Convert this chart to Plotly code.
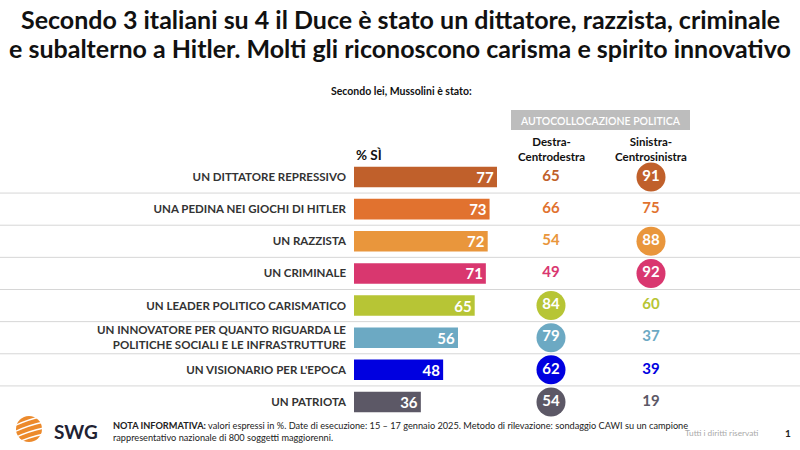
import plotly.graph_objects as go

W, H = 800, 450

categories = [
    "UN DITTATORE REPRESSIVO",
    "UNA PEDINA NEI GIOCHI DI HITLER",
    "UN RAZZISTA",
    "UN CRIMINALE",
    "UN LEADER POLITICO CARISMATICO",
    "UN INNOVATORE PER QUANTO RIGUARDA LE<br>POLITICHE SOCIALI E LE INFRASTRUTTURE",
    "UN VISIONARIO PER L'EPOCA",
    "UN PATRIOTA",
]
pct_si = [77, 73, 72, 71, 65, 56, 48, 36]
destra = [65, 66, 54, 49, 84, 79, 62, 54]
sinistra = [91, 75, 88, 92, 60, 37, 39, 19]
destra_highlight = [0, 0, 0, 0, 1, 1, 1, 1]
sinistra_highlight = [1, 0, 1, 1, 0, 0, 0, 0]
groups = ["Destra-<br>Centrodestra", "Sinistra-<br>Centrosinistra"]
colors = ["#C0602B", "#E1722F", "#E9963C", "#D9376F", "#B7C535", "#6CA9C3", "#0000E0", "#5C5866"]
title_lines = [
    "Secondo 3 italiani su 4 il Duce è stato un dittatore, razzista, criminale",
    "e subalterno a Hitler. Molti gli riconoscono carisma e spirito innovativo",
]

FONT = "Lato"


def px(x):
    return x / W


def py(y):
    return 1 - y / H


rows = list(range(len(categories)))
row0, step = 177, 32.14
y_range = [(H - row0) / step, -row0 / step]

fig = go.Figure()

# separators between rows
for i in range(len(categories) - 1):
    fig.add_shape(type="line", xref="paper", yref="y", x0=0, x1=1, y0=i + 0.5, y1=i + 0.5,
                  line=dict(color="#D6D6D6", width=1), layer="below")

fig.add_trace(go.Bar(
    orientation="h", y=rows, x=pct_si, marker=dict(color=colors, line=dict(width=0)),
    width=0.64, text=[str(v) for v in pct_si], textposition="inside", insidetextanchor="end",
    textangle=0, constraintext="none",
    textfont=dict(family=FONT, size=15, color="white", weight="bold"), cliponaxis=False,
    hoverinfo="skip", xaxis="x", yaxis="y",
))


def col_trace(vals, flags, group):
    sizes = [29 if f else 1 for f in flags]
    tcol = ["white" if f else c for f, c in zip(flags, colors)]
    mcol = [c if f else "rgba(255,255,255,0)" for f, c in zip(flags, colors)]
    return go.Scatter(
        x=[group] * len(vals), y=rows, mode="markers+text", text=[str(v) for v in vals],
        textposition="middle center",
        marker=dict(size=sizes, color=mcol, opacity=1, line=dict(width=0)),
        textfont=dict(family=FONT, size=15, color=tcol, weight="bold"),
        xaxis="x2", yaxis="y", hoverinfo="skip", cliponaxis=False,
    )


fig.add_trace(col_trace(destra, destra_highlight, groups[0]))
fig.add_trace(col_trace(sinistra, sinistra_highlight, groups[1]))

bar_x0 = 354
bar_ppu = 1.857
fig.update_layout(
    width=W, height=H, margin=dict(l=0, r=0, t=0, b=0),
    paper_bgcolor="white", plot_bgcolor="rgba(0,0,0,0)", showlegend=False,
    xaxis=dict(domain=[px(bar_x0), px(bar_x0 + 100 * bar_ppu)], range=[0, 100],
               visible=False, fixedrange=True),
    xaxis2=dict(domain=[px(501), px(701)], type="category", categoryorder="array",
                categoryarray=groups, range=[-0.5, 1.5], visible=False, anchor="y"),
    yaxis=dict(domain=[0, 1], range=y_range, tickvals=rows, ticktext=categories,
               showgrid=False, zeroline=False, showline=False, ticks="",
               ticklabelstandoff=7,
               tickfont=dict(family=FONT, size=11.5, color="#333333", weight="bold")),
    font=dict(family=FONT),
)

ann = []
for line, ty in zip(title_lines, [19, 48]):
    ann.append(dict(x=0.5, y=py(ty), xref="paper", yref="paper", xanchor="center", yanchor="middle",
                    text="<b>" + line + "</b>", showarrow=False,
                    font=dict(family=FONT, size=25, color="#111111")))
ann.append(dict(x=px(402), y=py(91), xref="paper", yref="paper", xanchor="center", yanchor="middle",
                text="<b>Secondo lei, Mussolini è stato:</b>", showarrow=False,
                font=dict(family=FONT, size=10.5, color="#111111")))
ann.append(dict(x=px(354), y=py(155), xref="paper", yref="paper", xanchor="left", yanchor="middle",
                text="<b>% SÌ</b>", showarrow=False, font=dict(family=FONT, size=13.5, color="#111111")))
fig.add_shape(type="rect", xref="paper", yref="paper", x0=px(511), x1=px(690), y0=py(110), y1=py(130),
              fillcolor="#BDBDBD", line=dict(width=0))
ann.append(dict(x=px(600), y=py(120.5), xref="paper", yref="paper", xanchor="center", yanchor="middle",
                text="AUTOCOLLOCAZIONE POLITICA", showarrow=False,
                font=dict(family=FONT, size=10.5, color="white", weight=600)))
for g, cx in zip(groups, [551, 651]):
    ann.append(dict(x=px(cx), y=py(149), xref="paper", yref="paper", xanchor="center", yanchor="middle",
                    text="<b>" + g + "</b>", showarrow=False,
                    font=dict(family=FONT, size=11.5, color="#111111")))

# footer
ann.append(dict(x=px(111), y=py(431), xref="paper", yref="paper", xanchor="left", yanchor="middle",
                align="left",
                text="<b>NOTA INFORMATIVA:</b> valori espressi in %. Date di esecuzione: 15 – 17 gennaio 2025. "
                     "Metodo di rilevazione: sondaggio CAWI su un campione<br>"
                     "rappresentativo nazionale di 800 soggetti maggiorenni.",
                showarrow=False, font=dict(family=FONT, size=9.2, color="#222222")))
ann.append(dict(x=px(761), y=py(433), xref="paper", yref="paper", xanchor="right", yanchor="middle",
                text="Tutti i diritti riservati", showarrow=False,
                font=dict(family=FONT, size=8.3, color="#AAAAAA")))
ann.append(dict(x=px(788), y=py(433), xref="paper", yref="paper", xanchor="center", yanchor="middle",
                text="<b>1</b>", showarrow=False, font=dict(family=FONT, size=10, color="#222222")))
ann.append(dict(x=px(52), y=py(431), xref="paper", yref="paper", xanchor="left", yanchor="middle",
                text="<b>SWG</b>", showarrow=False, font=dict(family=FONT, size=19, color="#222233")))

# logo sphere
fig.add_shape(type="circle", xref="paper", yref="paper", x0=px(16), x1=px(42), y0=py(442), y1=py(416),
              fillcolor="#EC8A2C", line=dict(width=0))
for k in range(4):
    yy = 421 + k * 6
    fig.add_shape(type="path", xref="paper", yref="paper",
                  path=f"M {px(14)},{py(yy + 5)} Q {px(29)},{py(yy - 2)} {px(44)},{py(yy - 5)}",
                  line=dict(color="white", width=1.3))

fig.update_layout(annotations=ann)
fig.write_html("out.html", config={"displayModeBar": False},
               post_script="document.body.style.margin='0';document.body.style.overflow='hidden';")
